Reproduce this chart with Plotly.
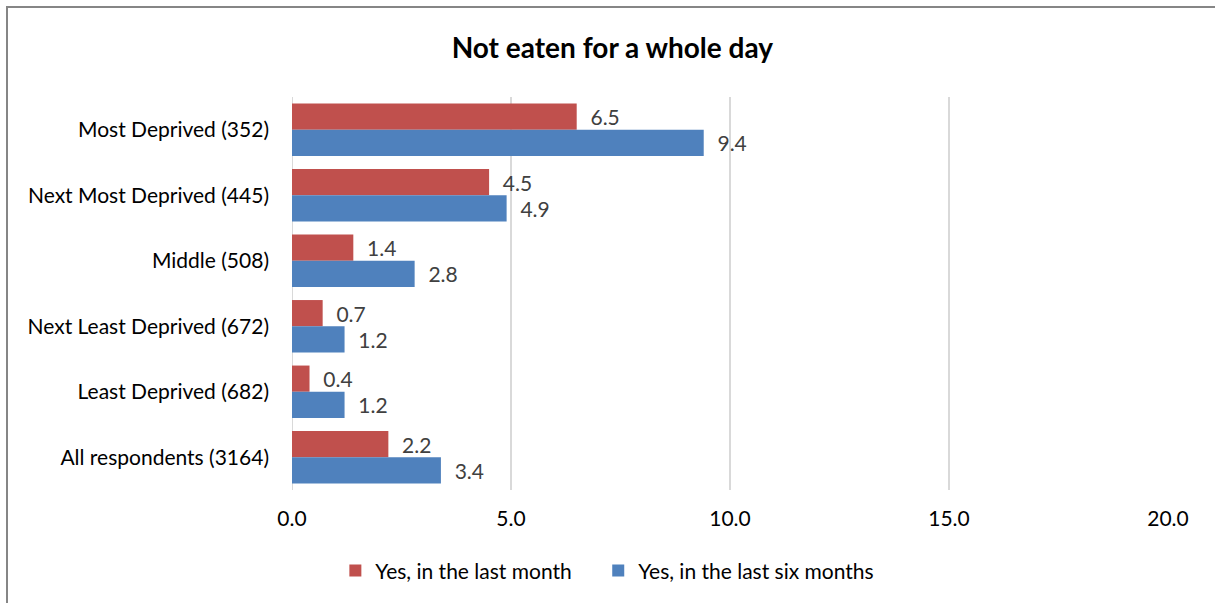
import plotly.graph_objects as go

categories = [
    "Most Deprived (352)",
    "Next Most Deprived (445)",
    "Middle (508)",
    "Next Least Deprived (672)",
    "Least Deprived (682)",
    "All respondents (3164)",
]
last_month = [6.5, 4.5, 1.4, 0.7, 0.4, 2.2]
last_six_months = [9.4, 4.9, 2.8, 1.2, 1.2, 3.4]
x_ticks = [0, 5, 10, 15, 20]
series_names = ["Yes, in the last month", "Yes, in the last six months"]

FONT = "Lato"
RED = "#C0504D"
BLUE = "#4F81BD"
LABEL_GRAY = "#404040"
SIZE = 21

fig = go.Figure()
for i, (name, vals, color) in enumerate(zip(series_names, [last_month, last_six_months], [RED, BLUE])):
    fig.add_trace(go.Bar(
        y=categories, x=vals,
        name=name + ("\u00a0\u00a0\u00a0\u00a0" if i == 0 else ""),
        orientation="h",
        marker=dict(color=color, line=dict(width=0)),
        texttemplate="\u00a0\u00a0%{x:.1f}",
        textposition="outside",
        textfont=dict(family=FONT, size=SIZE, color=LABEL_GRAY),
        constraintext="none",
        cliponaxis=False,
        hoverinfo="skip",
    ))

fig.update_layout(
    width=1215, height=603,
    margin=dict(l=292, r=47, t=97, b=113),
    paper_bgcolor="white", plot_bgcolor="white",
    barmode="group", bargap=0.2, bargroupgap=0,
    font=dict(family=FONT, size=SIZE, color="black"),
    title=dict(
        text="<b>Not eaten for a whole day</b>",
        font=dict(family=FONT, size=28, color="black"),
        x=0.504, xanchor="center", xref="container",
        y=1 - 48 / 603, yanchor="middle", yref="container",
    ),
    xaxis=dict(
        range=[0, 20], tickvals=x_ticks, tickformat=".1f",
        showgrid=True, gridcolor="#D9D9D9", gridwidth=2,
        zeroline=False, showline=False, ticks="",
        ticklabelstandoff=14,
        tickfont=dict(family=FONT, size=SIZE, color="black"),
    ),
    yaxis=dict(
        autorange="reversed", showgrid=False, zeroline=False,
        showline=False, ticks="", ticklabelstandoff=22,
        tickfont=dict(family=FONT, size=SIZE, color="black"),
    ),
    legend=dict(
        orientation="h", x=0.36, xanchor="center",
        y=-0.206, yanchor="middle",
        font=dict(family=FONT, size=SIZE, color="black"),
        itemwidth=30, traceorder="normal",
    ),
    showlegend=True,
)

# vertical axis line at zero
fig.add_shape(type="line", xref="x", yref="paper", x0=0, x1=0, y0=0, y1=1,
              line=dict(color="#D9D9D9", width=2), layer="below")

# chart border
fig.add_shape(type="rect", xref="paper", yref="paper",
              x0=(7 - 292) / 876, x1=1.08, y0=-0.35, y1=(603 - 7 - 113) / 393,
              line=dict(color="#868686", width=2), fillcolor="rgba(0,0,0,0)")

fig.write_html("out.html")
